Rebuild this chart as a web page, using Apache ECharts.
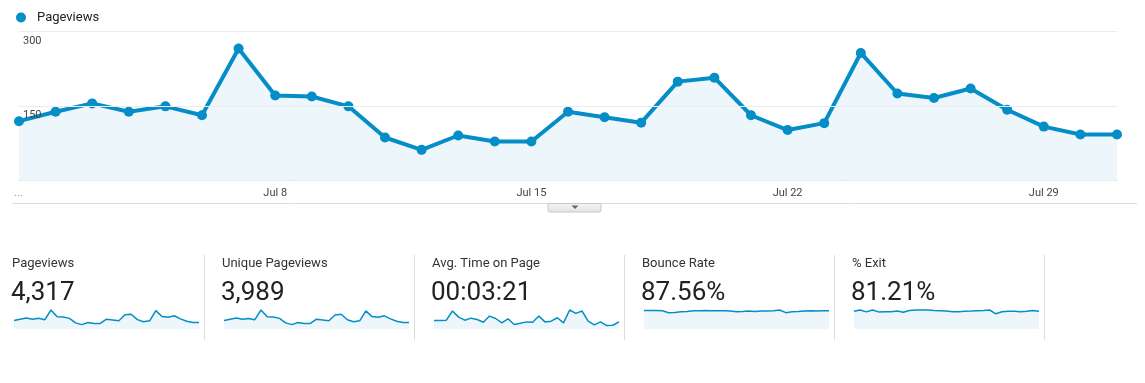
<!DOCTYPE html>
<html>
<head>
<meta charset="utf-8">
<script src="https://cdn.jsdelivr.net/npm/echarts@6/dist/echarts.min.js"></script>
<style>
html,body{margin:0;padding:0;background:#fff;}
#c{width:1145px;height:383px;}
</style>
</head>
<body>
<div id="c"></div>
<script>
const days = ['Jul 1','Jul 2','Jul 3','Jul 4','Jul 5','Jul 6','Jul 7','Jul 8','Jul 9','Jul 10','Jul 11','Jul 12','Jul 13','Jul 14','Jul 15','Jul 16','Jul 17','Jul 18','Jul 19','Jul 20','Jul 21','Jul 22','Jul 23','Jul 24','Jul 25','Jul 26','Jul 27','Jul 28','Jul 29','Jul 30','Jul 31'];
const pageviews = [119,138,155,138,149,131,266,171,169,149,86,61,90,78,78,138,127,116,199,207,131,101,115,257,175,166,185,142,108,92,92];
const uniquePageviews = [110,128,143,126,137,121,247,158,156,138,80,57,84,72,73,127,117,107,183,191,121,94,106,236,161,153,171,131,100,85,85];
const avgTimeOnPage = [180,180,187,382,252,187,230,202,144,274,223,130,216,94,122,151,144,274,151,166,238,130,403,331,382,166,86,151,72,79,151];
const bounceRate = [90,90,90,88,79,80,84,85,88,88,90,88,88,88,87,84,85,87,85,87,87,88,92,79,84,85,87,88,87,88,88];
const exitRate = [84,90,81,90,81,82,82,85,79,88,90,90,90,88,87,85,82,82,84,85,87,88,90,72,82,84,84,82,84,88,84];
const yTicks = [0,150,300];
const cardTitles = ['Pageviews','Unique Pageviews','Avg. Time on Page','Bounce Rate','% Exit'];
const cardValues = ['4,317','3,989','00:03:21','87.56%','81.21%'];
const sparkSeries = [pageviews, uniquePageviews, avgTimeOnPage, bounceRate, exitRate];

const BLUE = '#058dc7';
const FILL = 'rgba(5,141,199,0.10)';
const FONT = 'Roboto, Arial, sans-serif';

const chart = echarts.init(document.getElementById('c'), null, {renderer:'canvas'});

const grids = [{left:19, right:28, top:31.7, bottom:203}];
const xAxes = [{
  type:'category', gridIndex:0, data:days, boundaryGap:false,
  axisLine:{lineStyle:{color:'#999', width:1}},
  axisTick:{show:false},
  axisLabel:{
    color:'#444', fontSize:11, fontFamily:FONT, margin:8,
    interval:(i)=> i>0 && i%7===0
  },
  splitLine:{show:false}
}];
const yAxes = [{
  type:'value', gridIndex:0, min:yTicks[0], max:yTicks[yTicks.length-1], interval:150,
  z:10,
  axisLine:{show:false}, axisTick:{show:false},
  axisLabel:{
    inside:true, margin:4, color:'#444', fontSize:11, fontFamily:FONT,
    verticalAlign:'top', padding:[4,0,0,0],
    formatter:(v)=> v===0 ? '' : String(v)
  },
  splitLine:{lineStyle:{color:'#ebebeb', width:1}}
}];
const series = [{
  name:'Pageviews', type:'line', xAxisIndex:0, yAxisIndex:0, data:pageviews,
  symbol:'circle', symbolSize:10, showSymbol:true, clip:false,
  itemStyle:{color:BLUE},
  lineStyle:{color:BLUE, width:4},
  areaStyle:{color:FILL},
  z:3
}];

const graphics = [
  {type:'line', shape:{x1:12, y1:203.5, x2:1137, y2:203.5}, style:{stroke:'#dcdcdc', lineWidth:1}},
  {type:'text', left:14, top:188, style:{text:'...', fill:'#999', font:'11px '+FONT}},
  {type:'rect', shape:{x:548, y:203.5, width:53, height:8.5, r:[0,0,2,2]},
   style:{fill:new echarts.graphic.LinearGradient(0,0,0,1,[{offset:0,color:'#f5f5f5'},{offset:1,color:'#e2e2e2'}]), stroke:'#c8c8c8', lineWidth:1}},
  {type:'polygon', shape:{points:[[571.5,205.5],[578.5,205.5],[575,209]]}, style:{fill:'#666'}}
];

cardTitles.forEach((t,i)=>{
  const x0 = 12 + 210*i;
  graphics.push({type:'text', x:x0, y:264, style:{text:t, fill:'#333', font:'13px '+FONT, textVerticalAlign:'middle'}});
  graphics.push({type:'text', x:x0-1, y:293, style:{text:cardValues[i], fill:'#222', font:'26px '+FONT, textVerticalAlign:'middle'}});
  graphics.push({type:'line', shape:{x1:204.5+210*i, y1:255, x2:204.5+210*i, y2:340}, style:{stroke:'#dddddd', lineWidth:1}});
  const gi = i+1;
  grids.push({left:14+210*i, width:185, top:310, height:19});
  xAxes.push({type:'category', gridIndex:gi, data:days, boundaryGap:false, show:false});
  yAxes.push({type:'value', gridIndex:gi, min:0, max:'dataMax', show:false, splitLine:{show:false}});
  series.push({
    name:'spark'+i, type:'line', xAxisIndex:gi, yAxisIndex:gi, data:sparkSeries[i],
    symbol:'none', showSymbol:false, clip:false,
    lineStyle:{color:BLUE, width:1.5}, itemStyle:{color:BLUE},
    areaStyle:{color:FILL}
  });
});

chart.setOption({
  animation:false,
  backgroundColor:'#fff',
  legend:{
    data:['Pageviews'], left:11, top:6, icon:'circle', itemWidth:10, itemHeight:10,
    selectedMode:false,
    textStyle:{color:'#222', fontSize:13, fontFamily:FONT, padding:[0,0,0,6]}
  },
  grid:grids, xAxis:xAxes, yAxis:yAxes, series:series,
  graphic:graphics
});
</script>
</body>
</html>
